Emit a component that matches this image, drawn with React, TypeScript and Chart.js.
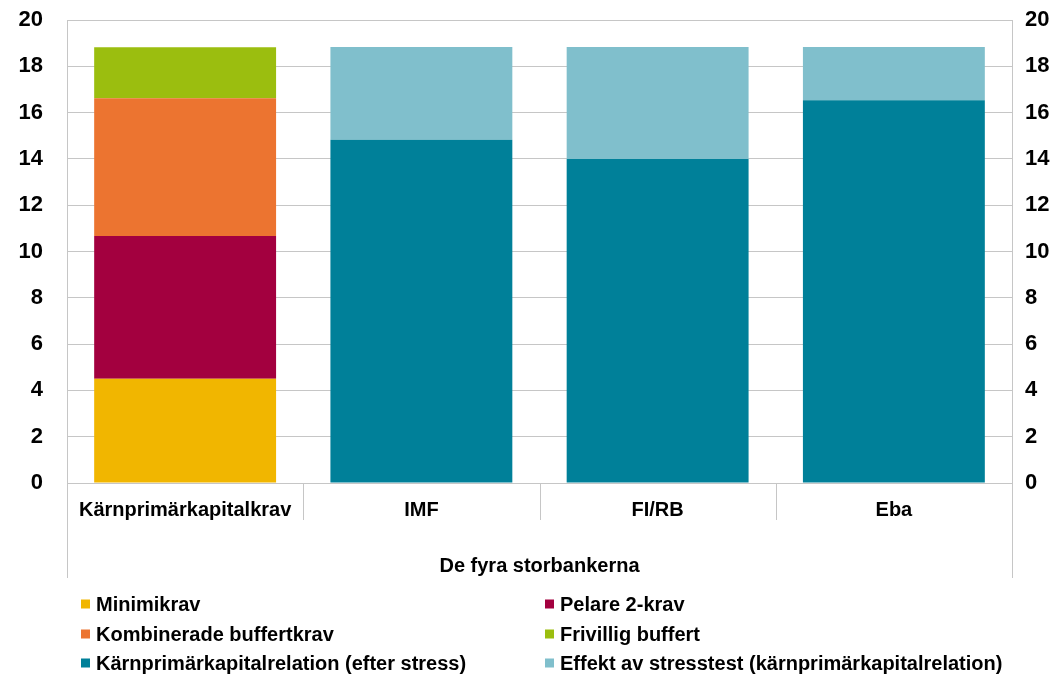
import React, { useEffect, useRef } from "react";
import { Chart, registerables } from "chart.js";

Chart.register(...registerables);

const categories = ["Kärnprimärkapitalkrav", "IMF", "FI/RB", "Eba"];
const axisGroupLabel = "De fyra storbankerna";
const seriesLabels = [
  "Minimikrav",
  "Pelare 2-krav",
  "Kombinerade buffertkrav",
  "Frivillig buffert",
  "Kärnprimärkapitalrelation (efter stress)",
  "Effekt av stresstest (kärnprimärkapitalrelation)",
];
const minimikrav = [4.5, null, null, null];
const pelare2 = [6.17, null, null, null];
const kombinerade = [5.95, null, null, null];
const frivillig = [2.2, null, null, null];
const relationEfterStress = [null, 14.83, 14.0, 16.53];
const effektStresstest = [null, 4.0, 4.83, 2.3];
const yTicks = [0, 2, 4, 6, 8, 10, 12, 14, 16, 18, 20];

const colors = ["#F1B600", "#A3003F", "#EC7430", "#9BBE0F", "#008099", "#80BFCC"];
const GRID = "#c6c6c6";
const FONT = "'Liberation Sans', Arial, sans-serif";
const NONE = "rgba(0,0,0,0)";

export default function App() {
  const ref = useRef<HTMLCanvasElement>(null);
  useEffect(() => {
    document.body.style.margin = "0";
    const canvas = ref.current!;
    const values = [minimikrav, pelare2, kombinerade, frivillig, relationEfterStress, effektStresstest];

    const decor = {
      id: "decor",
      afterDraw(chart: any) {
        const ctx = chart.ctx;
        const { left, right, bottom } = chart.chartArea;
        const n = categories.length;
        const w = (right - left) / n;
        ctx.save();
        ctx.strokeStyle = GRID;
        ctx.lineWidth = 1;
        for (let i = 0; i <= n; i++) {
          const x = Math.round(left + i * w) + 0.5;
          const y2 = i === 0 || i === n ? bottom + 95 : bottom + 37;
          ctx.beginPath();
          ctx.moveTo(x, bottom);
          ctx.lineTo(x, y2);
          ctx.stroke();
        }
        // legend
        const colX = [81, 545];
        const rowY = [604, 634, 663];
        ctx.font = `bold 20px ${FONT}`;
        ctx.textBaseline = "middle";
        ctx.textAlign = "left";
        chart.data.datasets.forEach((ds: any, i: number) => {
          const cx = colX[i % 2];
          const cy = rowY[Math.floor(i / 2)];
          ctx.fillStyle = ds.backgroundColor;
          ctx.fillRect(cx, cy - 4.5, 9, 9);
          ctx.fillStyle = "#000";
          ctx.fillText(ds.label, cx + 15, cy + 1);
        });
        ctx.restore();
      },
    };

    const chart = new Chart(canvas, {
      type: "bar",
      data: {
        labels: categories,
        datasets: seriesLabels.map((label, i) => ({
          label,
          data: values[i] as any,
          backgroundColor: colors[i],
          borderWidth: 0,
          barPercentage: 0.77,
          categoryPercentage: 1,
          yAxisID: "y",
        })),
      },
      options: {
        responsive: false,
        animation: false,
        devicePixelRatio: 1,
        layout: { padding: { top: 20, left: 0, right: 0, bottom: 101 } },
        plugins: { legend: { display: false }, tooltip: { enabled: false } },
        scales: {
          x: {
            stacked: true,
            grid: { display: false },
            border: { display: true, color: GRID },
            ticks: {
              color: "#000",
              font: { family: FONT, size: 20, weight: "bold" },
              padding: 7,
              maxRotation: 0,
              autoSkip: false,
            },
            title: {
              display: true,
              text: axisGroupLabel,
              color: "#000",
              font: { family: FONT, size: 20, weight: "bold" },
              padding: { top: 0, bottom: 0 },
            },
            afterFit(s: any) {
              s.height = 95;
            },
          },
          y: {
            stacked: true,
            position: "left",
            min: 0,
            max: 20,
            afterBuildTicks(s: any) {
              s.ticks = yTicks.map((v) => ({ value: v }));
            },
            grid: { color: GRID, drawTicks: true, tickLength: 24, tickColor: NONE },
            border: { display: true, color: GRID },
            ticks: {
              color: "#000",
              font: { family: FONT, size: 22, weight: "bold" },
              padding: 0,
            },
            afterFit(s: any) {
              s.width = 67;
            },
          },
          y2: {
            position: "right",
            min: 0,
            max: 20,
            afterBuildTicks(s: any) {
              s.ticks = yTicks.map((v) => ({ value: v }));
            },
            grid: { display: true, drawOnChartArea: false, drawTicks: true, tickLength: 13, tickColor: NONE },
            border: { display: true, color: GRID },
            ticks: {
              color: "#000",
              font: { family: FONT, size: 22, weight: "bold" },
              padding: 0,
            },
            afterFit(s: any) {
              s.width = 52;
            },
          },
        },
      } as any,
      plugins: [decor],
    });
    return () => chart.destroy();
  }, []);
  return (
    <div style={{ width: 1064, height: 679, background: "#fff" }}>
      <canvas ref={ref} width={1064} height={679} />
    </div>
  );
}
